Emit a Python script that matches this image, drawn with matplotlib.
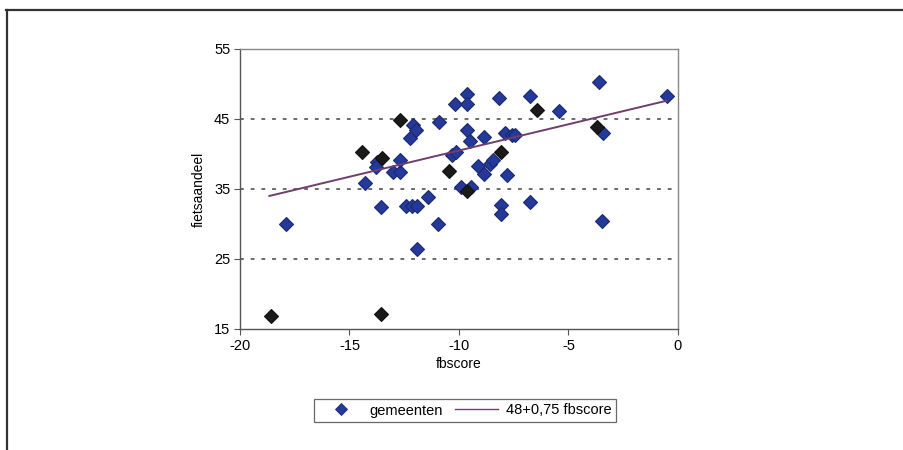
import matplotlib
matplotlib.use("Agg")
import matplotlib.pyplot as plt
from matplotlib.lines import Line2D
import numpy as np

plt.rcParams['font.family'] = ['Liberation Sans', 'DejaVu Sans']

# data: municipalities (blue) and highlighted municipalities (black)
blue_x = [-17.91, -14.29, -13.76, -13.80, -13.00, -12.69, -12.69, -13.55, -12.42, -12.16, -11.93,
          -11.40, -10.97, -11.90, -12.24, -12.09, -11.98, -10.90, -10.18, -10.33, -10.13,
          -9.65, -9.65, -9.65, -9.50, -9.12, -8.86, -8.58, -8.43, -8.16, -7.90, -7.60, -7.44,
          -7.82, -9.90, -9.43, -8.06, -8.10, -6.76, -6.76, -5.42, -3.61, -3.44, -0.52, -3.49,
          -8.84]
blue_y = [30.0, 35.8, 38.9, 38.2, 37.5, 37.5, 39.2, 32.5, 32.6, 32.6, 32.6,
          33.9, 30.0, 26.5, 42.3, 44.1, 43.5, 44.6, 47.1, 39.9, 40.3,
          48.6, 47.2, 43.5, 41.8, 38.3, 37.2, 38.6, 39.1, 48.0, 43.0, 42.7, 42.7,
          37.0, 35.3, 35.3, 32.7, 31.4, 33.2, 48.3, 46.2, 50.3, 43.0, 48.3, 30.5,
          42.4]
black_x = [-18.60, -13.56, -14.44, -13.53, -12.69, -10.44, -6.45, -9.65, -8.06, -3.68]
black_y = [16.9, 17.1, 40.3, 39.4, 44.9, 37.6, 46.3, 34.7, 40.3, 43.9]

# regression line: 48 + 0.75 * fbscore
intercept = 48.0
slope = 0.75
line_x = [-18.66, -0.52]

xticks = [-20, -15, -10, -5, 0]
yticks = [15, 25, 35, 45, 55]
grid_y = [25, 35, 45]

fig = plt.figure(figsize=(9.04, 4.5), dpi=100)
fig.patch.set_facecolor('white')

# outer frame (top and left lines only)
fig.add_artist(Line2D([6/904, 1.0], [1-10/450, 1-10/450], transform=fig.transFigure,
                      color='#333333', lw=1.6))
fig.add_artist(Line2D([7/904, 7/904], [0, 1-10/450], transform=fig.transFigure,
                      color='#333333', lw=1.6))

ax = fig.add_axes([240/904, 1-329/450, (678-240)/904, (329-49)/450])
ax.set_xlim(-20, 0)
ax.set_ylim(15, 55)

for gy in grid_y:
    ax.axhline(gy, color='#444444', lw=1.1, linestyle=(0, (2.5, 4.5)), zorder=1)

blue = '#24399a'
ms = 7.3
ax.plot(blue_x, blue_y, linestyle='none', marker='D', markersize=ms,
        markerfacecolor=blue, markeredgecolor='#1c2a6e', markeredgewidth=0.8, zorder=3)
ax.plot(black_x, black_y, linestyle='none', marker='D', markersize=ms,
        markerfacecolor='#1a1a1a', markeredgecolor='#111111', markeredgewidth=0.8, zorder=3)

lx = np.array(line_x)
ax.plot(lx, intercept + slope * lx, color='#6e3f6e', lw=1.4, zorder=4)

ax.set_xticks(xticks)
ax.set_yticks(yticks)
ax.set_xticklabels([str(t) for t in xticks])
ax.set_yticklabels([str(t) for t in yticks])
ax.tick_params(axis='both', labelsize=10.5, color='#555555', length=4, width=0.8, pad=3)
for s in ax.spines.values():
    s.set_color('#888888')
    s.set_linewidth(1.0)
ax.spines['left'].set_color('#555555')
ax.spines['bottom'].set_color('#555555')

ax.set_xlabel('fbscore', fontsize=10, labelpad=3)
ax.set_ylabel('fietsaandeel', fontsize=10, labelpad=6)

h1 = Line2D([], [], linestyle='none', marker='D', markersize=6.5,
            markerfacecolor=blue, markeredgecolor='#1c2a6e', markeredgewidth=0.6)
h2 = Line2D([], [], color='#6e3f6e', lw=1.0)
leg = fig.legend([h1, h2], ['gemeenten', '48+0,75 fbscore'], loc='center',
                 bbox_to_anchor=(465/904, 1-410.5/450), ncol=2, fontsize=10.5,
                 frameon=True, fancybox=False, edgecolor='#444444', borderpad=0.3,
                 handlelength=3.0, columnspacing=0.8, handletextpad=0.5)
leg.get_frame().set_linewidth(0.9)

fig.savefig('out.png', dpi=100, facecolor='white')
